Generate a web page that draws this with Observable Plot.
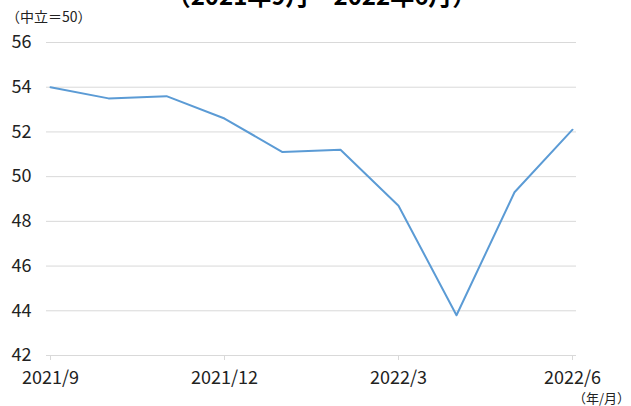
<!DOCTYPE html>
<html>
<head>
<meta charset="utf-8">
<script src="https://cdn.jsdelivr.net/npm/d3@7"></script>
<script src="https://cdn.jsdelivr.net/npm/@observablehq/plot@0.6"></script>
<style>
  html, body { margin: 0; padding: 0; background: #fff; }
  #wrap { position: relative; width: 631px; height: 406px; overflow: hidden; font-family: "Noto Sans CJK JP", "Noto Sans", sans-serif; }
  #title { position: absolute; left: 6px; width: 631px; top: -17px; text-align: center; font-size: 24px; line-height: 24px; font-weight: bold; color: #000; white-space: nowrap; }
  #ylab { position: absolute; left: 6px; top: 8px; font-size: 14px; line-height: 16px; color: #222; white-space: nowrap; }
  #xlab { position: absolute; right: 1px; top: 390px; font-size: 13px; line-height: 15px; color: #222; white-space: nowrap; }
  #chart { position: absolute; left: 0; top: 0; }
</style>
</head>
<body>
<div id="wrap">
  <div id="chart"></div>
  <div id="title">（2021年9月～2022年6月）</div>
  <div id="ylab">（中立＝50）</div>
  <div id="xlab">（年/月）</div>
</div>
<script>
const months = ["2021/9","2021/10","2021/11","2021/12","2022/1","2022/2","2022/3","2022/4","2022/5","2022/6"];
const values = [54.0, 53.5, 53.6, 52.6, 51.1, 51.2, 48.7, 43.8, 49.3, 52.1];
const xTicks = ["2021/9","2021/12","2022/3","2022/6"];
const yTicks = [42, 44, 46, 48, 50, 52, 54, 56];

const data = months.map((m, i) => ({month: m, value: values[i]}));

const chart = Plot.plot({
  width: 631,
  height: 406,
  marginTop: 42,
  marginBottom: 51,
  marginLeft: 46,
  marginRight: 55,
  style: { fontFamily: "'Noto Sans CJK JP', 'Noto Sans', sans-serif", fontSize: "18px", color: "#222", background: "#fff" },
  x: { type: "point", domain: months, padding: 0, ticks: xTicks, label: null },
  y: { domain: [42, 56], ticks: yTicks, label: null },
  marks: [
    Plot.gridY(yTicks, { stroke: "#d9d9d9", strokeOpacity: 1, strokeWidth: 1 }),
    Plot.axisY({ ticks: yTicks, tickSize: 0, tickPadding: 15, textAnchor: "end", label: null, fontSize: 18 }),
    Plot.axisX({ ticks: xTicks, tickSize: 5, tickPadding: 11, stroke: "#d9d9d9", label: null, fontSize: 18 }),
    Plot.line(data, { x: "month", y: "value", stroke: "#5B9BD5", strokeWidth: 2 })
  ]
});
document.getElementById("chart").appendChild(chart);
</script>
</body>
</html>
